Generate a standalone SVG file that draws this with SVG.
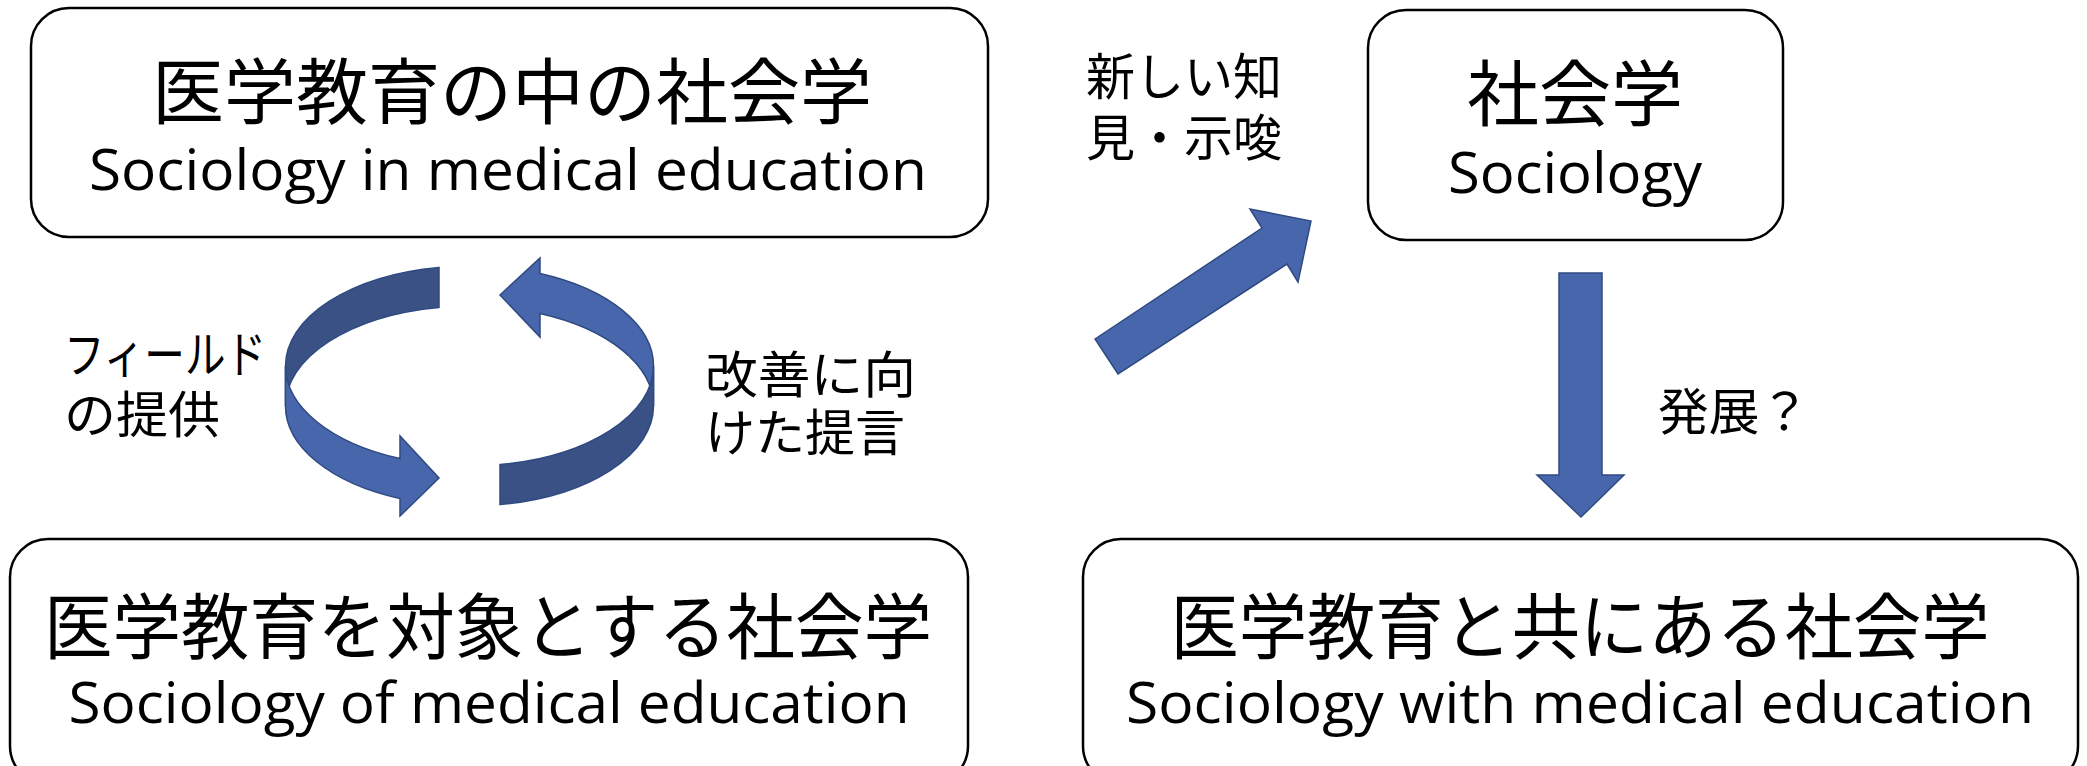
<svg xmlns="http://www.w3.org/2000/svg" width="2087" height="766" viewBox="0 0 2087 766">
  <style>
    .box { fill: #ffffff; stroke: #000000; stroke-width: 2.5; }
    .jp { font-family: "Noto Sans CJK JP", "Noto Sans", sans-serif; fill: #000000; }
    .en { font-family: "Open Sans", "Noto Sans", "Liberation Sans", sans-serif; fill: #000000; }
    .big { font-size: 72px; }
    .sub { font-size: 57px; }
    .lbl { font-size: 50px; }
    .arrow { fill: #4866AC; stroke: #2F4A80; stroke-width: 1.5; stroke-linejoin: miter; }
    .dark { fill: #3A5186; stroke: #2F4A80; stroke-width: 1.5; }
  </style>
  <rect x="0" y="0" width="2087" height="766" fill="#ffffff"/>

  <g id="node-in">
    <rect class="box" x="31" y="8" width="957" height="229" rx="38" ry="38"/>
    <text class="jp big" x="512" y="118" text-anchor="middle" textLength="720" lengthAdjust="spacingAndGlyphs">医学教育の中の社会学</text>
    <text class="en sub" x="508" y="190" text-anchor="middle" textLength="838" lengthAdjust="spacingAndGlyphs">Sociology in medical education</text>
  </g>

  <g id="node-sociology">
    <rect class="box" x="1368" y="10" width="415" height="230" rx="38" ry="38"/>
    <text class="jp big" x="1575" y="120" text-anchor="middle">社会学</text>
    <text class="en sub" x="1575" y="193" text-anchor="middle" textLength="254" lengthAdjust="spacingAndGlyphs">Sociology</text>
  </g>

  <g id="node-of">
    <rect class="box" x="10" y="539" width="958" height="245" rx="38" ry="38"/>
    <text class="jp big" x="488" y="653" text-anchor="middle" textLength="888" lengthAdjust="spacingAndGlyphs">医学教育を対象とする社会学</text>
    <text class="en sub" x="489" y="723" text-anchor="middle" textLength="841" lengthAdjust="spacingAndGlyphs">Sociology of medical education</text>
  </g>

  <g id="node-with">
    <rect class="box" x="1083" y="539" width="995" height="245" rx="38" ry="38"/>
    <text class="jp big" x="1580" y="653" text-anchor="middle" textLength="819" lengthAdjust="spacingAndGlyphs">医学教育と共にある社会学</text>
    <text class="en sub" x="1580" y="723" text-anchor="middle" textLength="908" lengthAdjust="spacingAndGlyphs">Sociology with medical education</text>
  </g>

  <g id="connectors">
    <g id="cycle-left">
      <path class="dark" d="M 439 267.4 A 184 100 0 0 0 285.5 366 L 285.5 406 A 184 100 0 0 1 439 307.4 Z"/>
      <path class="arrow" d="M 285.5 366 A 184 100 0 0 0 400 458.6 L 400 436 L 439 478 L 400 516 L 400 498.6 A 184 100 0 0 1 285.5 406 Z"/>
    </g>
    <g id="cycle-right">
      <path class="arrow" d="M 653.5 366 A 184 100 0 0 0 540 273.6 L 540 258 L 500 295 L 540 337 L 540 313.6 A 184 100 0 0 1 653.5 406 Z"/>
      <path class="dark" d="M 500 464.6 A 184 100 0 0 0 653.5 366 L 653.5 406 A 184 100 0 0 1 500 504.6 Z"/>
    </g>
    <polygon class="arrow" points="1095,339 1262,228 1250,209 1311,221 1298,282 1287,264 1118,374"/>
    <polygon class="arrow" points="1559,273 1602,273 1602,475 1624,475 1581,517 1537,475 1559,475"/>
  </g>

  <g id="labels">
    <text class="jp lbl" x="64" y="373" textLength="202" lengthAdjust="spacingAndGlyphs">フィールド</text>
    <text class="jp lbl" x="64" y="433" textLength="156" lengthAdjust="spacingAndGlyphs">の提供</text>
    <text class="jp lbl" x="705" y="393" textLength="211" lengthAdjust="spacingAndGlyphs">改善に向</text>
    <text class="jp lbl" x="705" y="451" textLength="200" lengthAdjust="spacingAndGlyphs">けた提言</text>
    <text class="jp lbl" x="1086" y="95" textLength="196" lengthAdjust="spacingAndGlyphs">新しい知</text>
    <text class="jp lbl" x="1086" y="156" textLength="196" lengthAdjust="spacingAndGlyphs">見・示唆</text>
    <text class="jp lbl" x="1658" y="430" textLength="152" lengthAdjust="spacingAndGlyphs">発展？</text>
  </g>
</svg>
